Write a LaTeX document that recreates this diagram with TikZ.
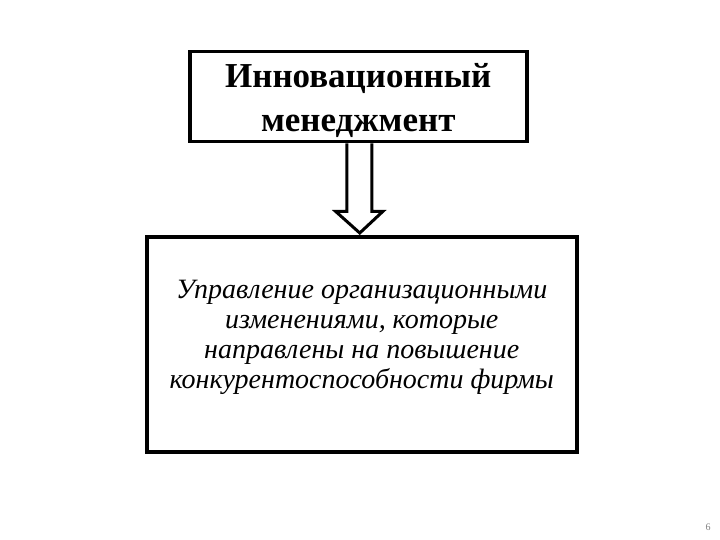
\documentclass[tikz,border=0pt]{standalone}
\usepackage{fontspec}
\setmainfont{Liberation Serif}
\usetikzlibrary{calc}
\begin{document}
\begin{tikzpicture}[x=1pt,y=-1pt,
  boxstyle/.style={draw=black,line width=3.5pt,inner sep=0pt,anchor=north west},
  arrowstyle/.style={draw=black,line width=3pt,fill=white,line join=miter}]
\useasboundingbox[fill=white] (0,0) rectangle (720,540);
\node[boxstyle,minimum width=337pt,minimum height=90pt] (top) at (188,50) {};
\node[font=\bfseries\fontsize{35}{44}\selectfont,align=center] (toptext) at ($(top.center)+(0,4)$) {Инновационный\\менеджмент};
\node[boxstyle,minimum width=430pt,minimum height=215pt] (bot) at (145,235) {};
\node[font=\itshape\fontsize{28}{30}\selectfont,align=center] (bottext) at ($(bot.center)+(0,-7)$) {Управление организационными\\изменениями, которые\\направлены на повышение\\конкурентоспособности фирмы};
\draw[arrowstyle] ($(top.south)+(-11.5,0)$) -- ($(top.south)+(-11.5,68)$) -- ($(top.south)+(-22.5,68)$)
  -- ($(bot.north)+(-2,-2)$) -- ($(top.south)+(24.5,68)$) -- ($(top.south)+(13.5,68)$) -- ($(top.south)+(13.5,0)$);
\node[font=\fontsize{10}{12}\selectfont,text=gray] (page) at (708,527) {6};
\end{tikzpicture}
\end{document}
